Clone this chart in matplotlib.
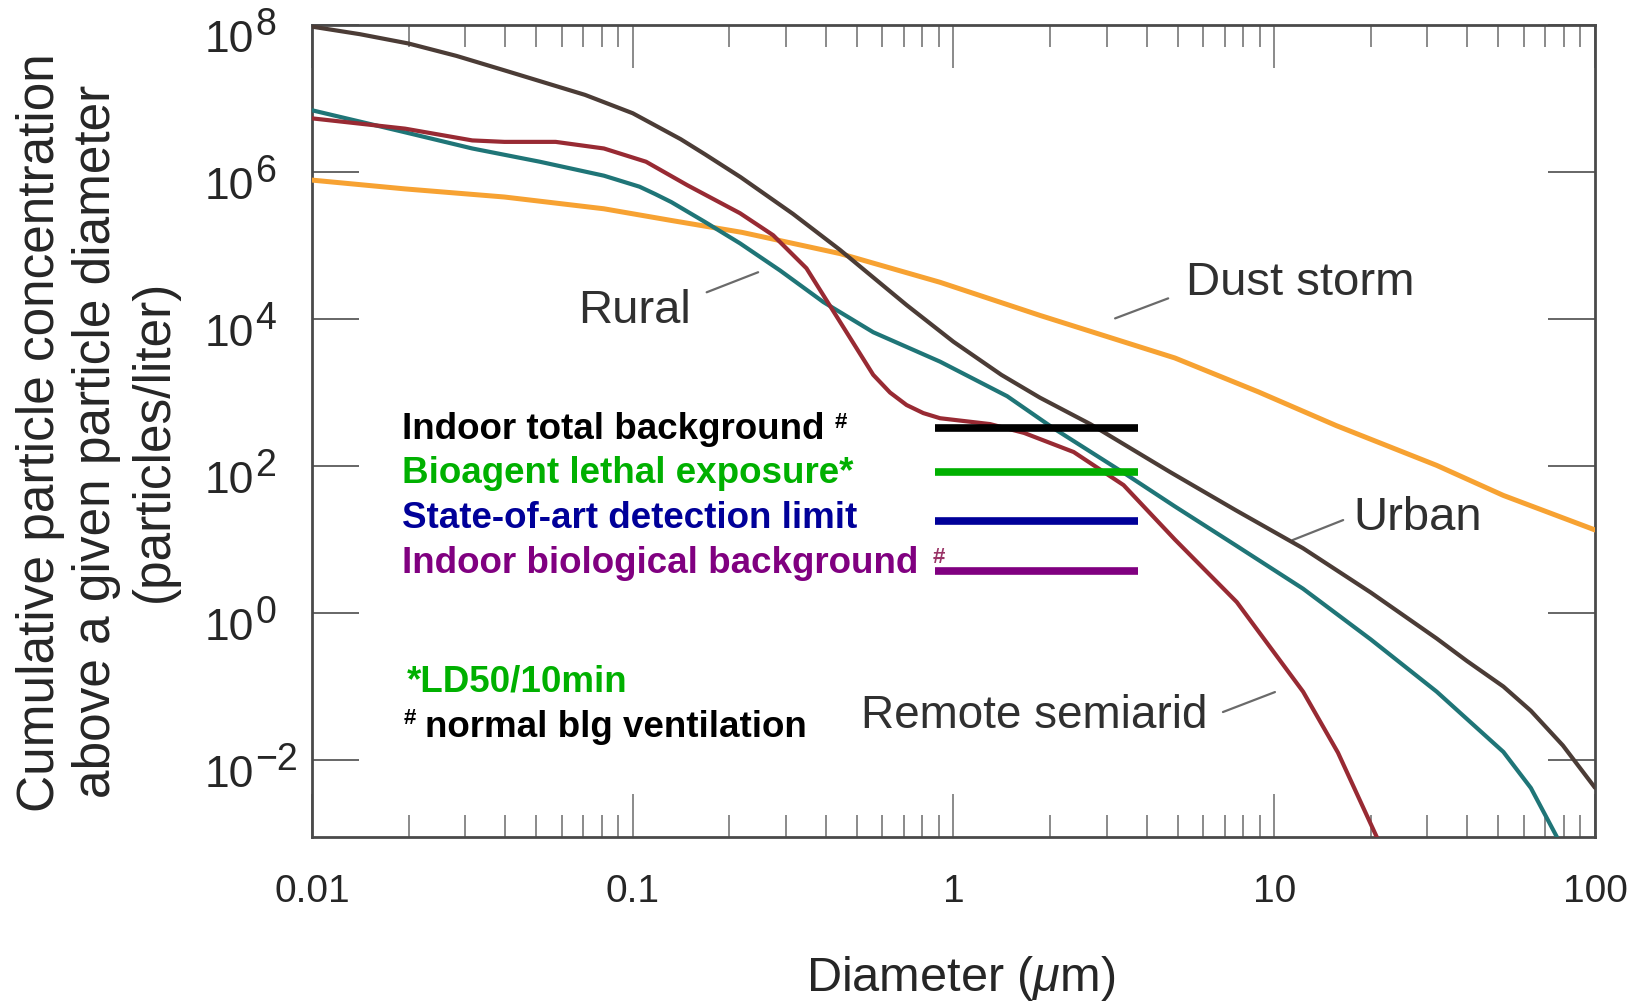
import matplotlib
matplotlib.use('Agg')
import matplotlib.pyplot as plt
from matplotlib import font_manager
from matplotlib.ticker import LogLocator, NullLocator, NullFormatter

available = {f.name for f in font_manager.fontManager.ttflist}
SANS = 'Liberation Sans'
NARROW = 'Liberation Sans Narrow' if 'Liberation Sans Narrow' in available else SANS
plt.rcParams['font.family'] = [SANS, 'DejaVu Sans']
plt.rcParams['mathtext.fontset'] = 'custom'
plt.rcParams['mathtext.rm'] = SANS
plt.rcParams['mathtext.it'] = SANS + ':italic'

# ---------------- data ----------------
urban_d = [0.010, 0.0141, 0.020, 0.0282, 0.040, 0.071, 0.100, 0.141, 0.168, 0.217,
           0.316, 0.443, 0.714, 1.00, 1.41, 1.86, 2.67, 4.73, 7.59, 12.3, 20.0,
           32.1, 39.8, 51.8, 63.1, 79.4, 100]
urban_n = [9.5e7, 7.5e7, 5.6e7, 3.8e7, 2.4e7, 1.12e7, 6.3e6, 2.8e6, 1.74e6, 8.5e5,
           2.69e5, 8.7e4, 1.55e4, 4.9e3, 1.74e3, 851, 372, 83, 25, 7.6, 1.9,
           0.45, 0.224, 0.100, 0.0468, 0.0158, 0.0042]

rural_d = [0.010, 0.0195, 0.0316, 0.0513, 0.0813, 0.105, 0.1175, 0.132, 0.168,
           0.216, 0.288, 0.393, 0.562, 0.908, 1.47, 2.04, 3.47, 4.90, 7.59, 12.3,
           20.0, 32.1, 51.8, 63.1, 79.4]
rural_n = [6.92e6, 3.47e6, 2.09e6, 1.38e6, 8.91e5, 6.31e5, 5.01e5, 3.89e5, 2.09e5,
           1.07e5, 4.57e4, 1.70e4, 6.61e3, 2.63e3, 891, 331, 75.9, 28.2, 8.32,
           2.14, 0.437, 0.0851, 0.0129, 0.00417, 0.000631]

semiarid_d = [0.010, 0.0195, 0.0316, 0.0398, 0.0575, 0.0813, 0.110, 0.148, 0.216,
              0.274, 0.348, 0.443, 0.562, 0.634, 0.714, 0.805, 0.908, 1.30, 1.66,
              2.37, 3.39, 4.90, 7.64, 12.3, 15.8, 21.4]
semiarid_n = [5.37e6, 3.89e6, 2.69e6, 2.57e6, 2.57e6, 2.09e6, 1.38e6, 6.61e5,
              2.75e5, 1.38e5, 4.90e4, 9.12e3, 1.74e3, 1000, 676, 525, 447, 372,
              282, 155, 55.0, 10.0, 1.41, 0.0851, 0.0126, 0.000708]

dust_d = [0.010, 0.0195, 0.0398, 0.0813, 0.132, 0.219, 0.443, 0.908, 1.86, 4.90,
          8.91, 15.6, 32.1, 51.8, 100]
dust_n = [7.76e5, 5.89e5, 4.57e5, 3.16e5, 2.19e5, 1.51e5, 7.76e4, 3.16e4, 1.12e4,
          2951, 1023, 355, 102, 39.8, 13.5]

# reference levels (particles/liter) and their diameter span
level_names = ['Indoor total background', 'Bioagent lethal exposure*',
               'State-of-art detection limit', 'Indoor biological background']
level_values = [327, 82, 17.8, 3.7]
level_colors = ['#000000', '#00b000', '#000099', '#800080']
level_span = [0.875, 3.76]

x_major = [0.01, 0.1, 1, 10, 100]
x_labels = ['0.01', '0.1', '1', '10', '100']
y_major = [1e-2, 1e0, 1e2, 1e4, 1e6, 1e8]
y_exps = ['\u22122', '0', '2', '4', '6', '8']

# ---------------- figure ----------------
W, H = 1633, 1002
fig = plt.figure(figsize=(W / 100, H / 100), dpi=100)
ax = fig.add_axes([312 / W, 1 - 837 / H, 1283 / W, 812 / H])
ax.set_xscale('log')
ax.set_yscale('log')
ax.set_xlim(0.01, 100)
ax.set_ylim(10 ** -3.047, 1e8)

line_kw = dict(solid_joinstyle='round', solid_capstyle='round')
ax.plot(dust_d, dust_n, color='#f7a232', lw=3.6, zorder=3, **line_kw)
ax.plot(rural_d, rural_n, color='#1f7577', lw=3.0, zorder=4, **line_kw)
ax.plot(semiarid_d, semiarid_n, color='#982a33', lw=3.0, zorder=4, **line_kw)
ax.plot(urban_d, urban_n, color='#4b3c36', lw=3.0, zorder=5, **line_kw)

for v, c in zip(level_values, level_colors):
    ax.hlines(v, level_span[0], level_span[1], colors=c, lw=5.5, zorder=6)

# ticks
ax.set_xticks(x_major)
ax.set_xticklabels(x_labels)
ax.xaxis.set_minor_locator(LogLocator(base=10, subs=range(2, 10), numticks=20))
ax.xaxis.set_minor_formatter(NullFormatter())
ax.tick_params(axis='x', which='major', direction='in', top=True, bottom=True,
               length=31, width=1.4, color='#8a8a8a', labelsize=28, pad=27,
               labelcolor='#262626')
ax.tick_params(axis='x', which='minor', direction='in', top=True, bottom=True,
               length=16, width=1.4, color='#8a8a8a')
ax.set_yticks(y_major)
ax.yaxis.set_minor_locator(NullLocator())
ax.tick_params(axis='y', which='major', direction='in', left=True, right=True,
               length=34, width=1.4, color='#666666', labelleft=False)

for s in ax.spines.values():
    s.set_linewidth(2.0)
    s.set_color('#4a4a4a')

# y tick labels 10^n
for v, e in zip(y_major, y_exps):
    ax.annotate('10', xy=(0, v), xycoords=('axes fraction', 'data'),
                xytext=(-41.5, -19.5), textcoords='offset points', ha='right',
                va='baseline', fontsize=32, family=[NARROW, 'DejaVu Sans'],
                color='#262626', annotation_clip=False)
    ax.annotate(e, xy=(0, v), xycoords=('axes fraction', 'data'),
                xytext=(-41.0, -7.2), textcoords='offset points', ha='left',
                va='baseline', fontsize=27, family=[NARROW, 'DejaVu Sans'],
                color='#262626', annotation_clip=False)

# axis titles
fig.text(961 / W, 1 - 991 / H, r'Diameter ($\mathit{\mu}$m)', ha='center', va='baseline',
         fontsize=35, color='#262626')
ylab = ['Cumulative particle concentration', 'above a given particle diameter',
        '(particles/liter)']
for txt, xc, yc in zip(ylab, [41, 97, 154], [433, 441, 441]):
    fig.text(xc / W, 1 - yc / H, txt, rotation=90, ha='center', va='center',
             fontsize=37, color='#262626')

# curve labels with leader lines
lab_kw = dict(color='#303030', ha='left', va='baseline', zorder=7)
ax.text(0.0675, 8750, 'Rural', fontsize=34, **lab_kw)
ax.text(5.31, 2.10e4, 'Dust storm', fontsize=34, **lab_kw)
ax.text(17.7, 13.4, 'Urban', fontsize=34, **lab_kw)
ax.text(0.515, 0.0272, 'Remote semiarid', fontsize=33, **lab_kw)
leaders = [((0.170, 2.31e4), (0.246, 4.33e4)),
           ((3.19, 1.02e4), (4.67, 1.91e4)),
           ((11.4, 9.82), (16.4, 18.4)),
           ((6.92, 0.0450), (10.05, 0.0841))]
for p0, p1 in leaders:
    ax.annotate('', xy=p1, xytext=p0,
                arrowprops=dict(arrowstyle='-', color='#6a6a6a', lw=1.6,
                                shrinkA=0, shrinkB=0))

# legend-like text block
tx = (402 - 312) / 1283
baselines = [0.4901, 0.4360, 0.3805, 0.3251]
for name, c, yb in zip(level_names, level_colors, baselines):
    ax.text(tx, yb, name, transform=ax.transAxes, fontsize=26.5, fontweight='bold',
            color=c, ha='left', va='baseline', zorder=8)
ax.text(0.4076, 0.5037, '#', transform=ax.transAxes, fontsize=16, fontweight='bold',
        color='#000000', ha='left', va='baseline', zorder=8)
ax.text(0.4840, 0.3374, '#', transform=ax.transAxes, fontsize=16, fontweight='bold',
        color='#993366', ha='left', va='baseline', zorder=8)
ax.text((407 - 312) / 1283, 0.1786, '*LD50/10min', transform=ax.transAxes,
        fontsize=26.5, fontweight='bold', color='#00b000', ha='left', va='baseline')
ax.text((404 - 312) / 1283, 0.1390, '#', transform=ax.transAxes, fontsize=16,
        fontweight='bold', color='#000000', ha='left', va='baseline')
ax.text((425 - 312) / 1283, 0.1232, 'normal blg ventilation', transform=ax.transAxes,
        fontsize=26.5, fontweight='bold', color='#000000', ha='left', va='baseline')

fig.savefig('out.png', dpi=100)
